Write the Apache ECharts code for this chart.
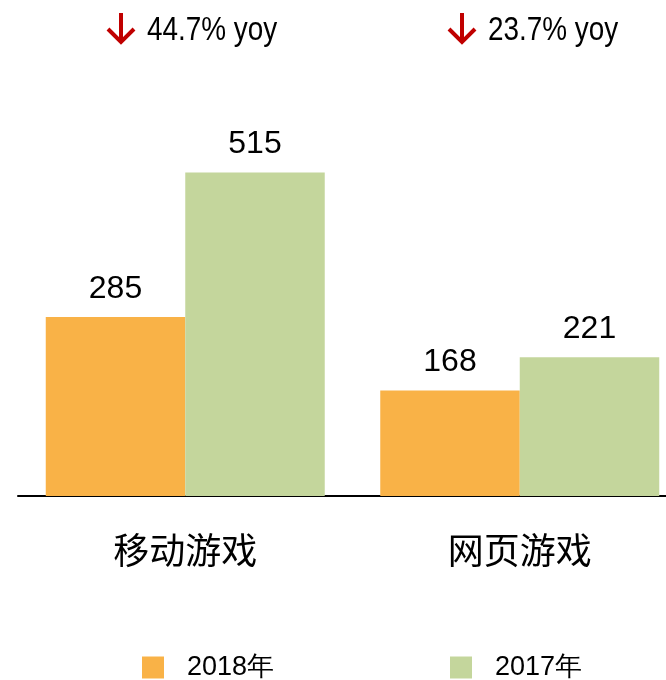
<!DOCTYPE html>
<html>
<head>
<meta charset="utf-8">
<script src="https://cdn.jsdelivr.net/npm/echarts@6/dist/echarts.min.js"></script>
<style>
  html, body { margin: 0; padding: 0; background: #fff; }
  #chart { width: 666px; height: 680px; }
</style>
</head>
<body>
<div id="chart"></div>
<script>
// 数据
const categories = ['移动游戏', '网页游戏'];
const data2018 = [285, 168];
const data2017 = [515, 221];
const yoyDrop = ['44.7%', '23.7%'];

const FONT_NUM = "'Liberation Sans', Arial, sans-serif";
const FONT_CJK = "'Noto Sans CJK SC', sans-serif";

const chart = echarts.init(document.getElementById('chart'));

// 顶部同比标注（箭头 + 文字）
const yoyPos = [{ arrowX: 121, textX: 147 }, { arrowX: 462, textX: 488 }];
const graphics = [];
yoyDrop.forEach((v, i) => {
    const p = yoyPos[i];
    graphics.push({
        type: 'polyline',
        shape: { points: [[p.arrowX, 13], [p.arrowX, 42]] },
        style: { stroke: '#C00000', lineWidth: 4, fill: null }
    });
    graphics.push({
        type: 'polyline',
        shape: { points: [[p.arrowX - 13, 29], [p.arrowX, 42], [p.arrowX + 13, 29]] },
        style: { stroke: '#C00000', lineWidth: 4, fill: null }
    });
    graphics.push({
        type: 'text',
        x: p.textX,
        y: 14,
        scaleX: 0.82,
        style: {
            text: v + ' yoy',
            font: '34px ' + FONT_NUM,
            fill: '#000'
        }
    });
});

const labelStyle = {
    show: true,
    position: 'top',
    distance: 12,
    color: '#000',
    fontSize: 32,
    fontFamily: FONT_NUM
};

const legendText = {
    color: '#000',
    fontSize: 27,
    fontFamily: FONT_NUM,
    padding: [0, 0, 0, 18]
};

const option = {
    animation: false,
    grid: {
        left: 18,
        width: 669,
        top: 119,
        height: 377,
        containLabel: false,
        outerBoundsMode: 'none'
    },
    legend: [
        {
            data: ['2018年'],
            left: 142,
            top: 654,
            padding: 0,
            icon: 'rect',
            itemWidth: 22,
            itemHeight: 22,
            textStyle: legendText
        },
        {
            data: ['2017年'],
            left: 450,
            top: 654,
            padding: 0,
            icon: 'rect',
            itemWidth: 22,
            itemHeight: 22,
            textStyle: legendText
        }
    ],
    xAxis: {
        type: 'category',
        data: categories,
        axisLine: { lineStyle: { color: '#000', width: 2 } },
        axisTick: { show: false },
        axisLabel: {
            color: '#000',
            fontSize: 36,
            fontFamily: FONT_CJK,
            margin: 36
        }
    },
    yAxis: {
        type: 'value',
        min: 0,
        max: 600,
        show: false,
        splitLine: { show: false }
    },
    series: [
        {
            name: '2018年',
            type: 'bar',
            data: data2018,
            barWidth: 139.5,
            barGap: '0%',
            itemStyle: { color: '#F9B247' },
            label: labelStyle
        },
        {
            name: '2017年',
            type: 'bar',
            data: data2017,
            barWidth: 139.5,
            barGap: '0%',
            itemStyle: { color: '#C4D69C' },
            label: labelStyle
        }
    ],
    graphic: graphics
};

chart.setOption(option);
</script>
</body>
</html>
